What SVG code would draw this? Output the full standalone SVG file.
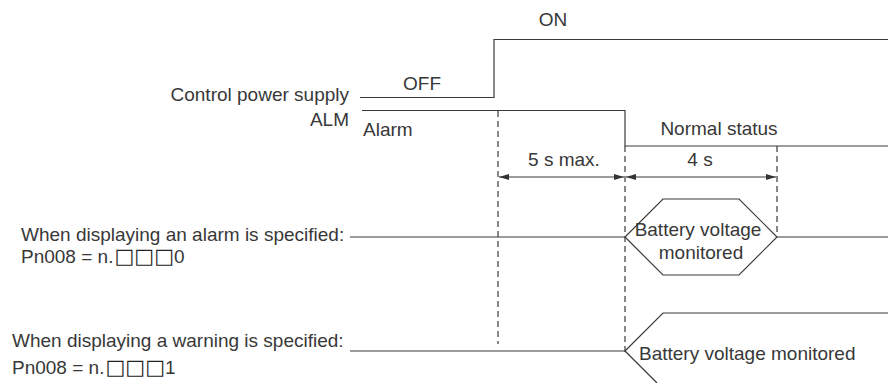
<svg xmlns="http://www.w3.org/2000/svg" width="888" height="383" viewBox="0 0 888 383">
<style>
text{font-family:"Liberation Sans",Arial,sans-serif;font-size:19px;fill:#383838}
.sq{font-family:"DejaVu Sans",sans-serif;font-size:21px;fill:#222}
.ln{fill:none;stroke:#3a3a3a;stroke-width:1.2}
.ds{fill:none;stroke:#3a3a3a;stroke-width:1.2;stroke-dasharray:6 4}
.r{text-anchor:end}
.m{text-anchor:middle}
</style>
<defs>
<marker id="ah" viewBox="0 0 10 6" refX="10" refY="3" markerWidth="10" markerHeight="6" markerUnits="userSpaceOnUse" orient="auto-start-reverse">
<path d="M0,0 L10,3 L0,6 Z" fill="#333"/>
</marker>
</defs>
<rect width="888" height="383" fill="#fff"/>
<g id="labels">
<text class="r" x="349" y="101">Control power supply</text>
<text class="r" x="349" y="126">ALM</text>
<text x="21" y="241">When displaying an alarm is specified:</text>
<text x="21" y="263">Pn008 = n.<tspan class="sq" dx="1">□□□</tspan>0</text>
<text x="12" y="347">When displaying a warning is specified:</text>
<text x="12" y="374">Pn008 = n.<tspan class="sq" dx="1">□□□</tspan>1</text>
</g>
<g id="connectors">
<path class="ln" d="M360,97.5 H494 V39.5 H888"/>
<path class="ln" d="M362,110.5 H625 V146 H888"/>
<path class="ds" d="M498,111 V344"/>
<path class="ds" d="M625,146 V352"/>
<path class="ds" d="M777,146 V236"/>
<path class="ln" d="M499,177 H624" marker-start="url(#ah)" marker-end="url(#ah)"/>
<path class="ln" d="M626,177 H776" marker-start="url(#ah)" marker-end="url(#ah)"/>
<path class="ln" d="M350,237 H625"/>
<path class="ln" d="M777,237 H888"/>
<path class="ln" d="M350,351 H625"/>
<path class="ln" d="M625,351 L663,313 H888"/>
<path class="ln" d="M625,351 L657,383"/>
</g>
<g id="signal-text">
<text class="m" x="553" y="26">ON</text>
<text class="m" x="422" y="90">OFF</text>
<text x="363" y="136">Alarm</text>
<text class="m" x="719" y="135">Normal status</text>
<text class="m" x="564" y="166">5 s max.</text>
<text class="m" x="700" y="166">4 s</text>
</g>
<g id="battery-alarm">
<path class="ln" d="M625,237 L663,199 H739 L777,237 L739,275 H663 Z"/>
<text class="m" x="698" y="236">Battery voltage</text>
<text class="m" x="701" y="259">monitored</text>
</g>
<g id="battery-warning">
<text x="639" y="360">Battery voltage monitored</text>
</g>
</svg>
